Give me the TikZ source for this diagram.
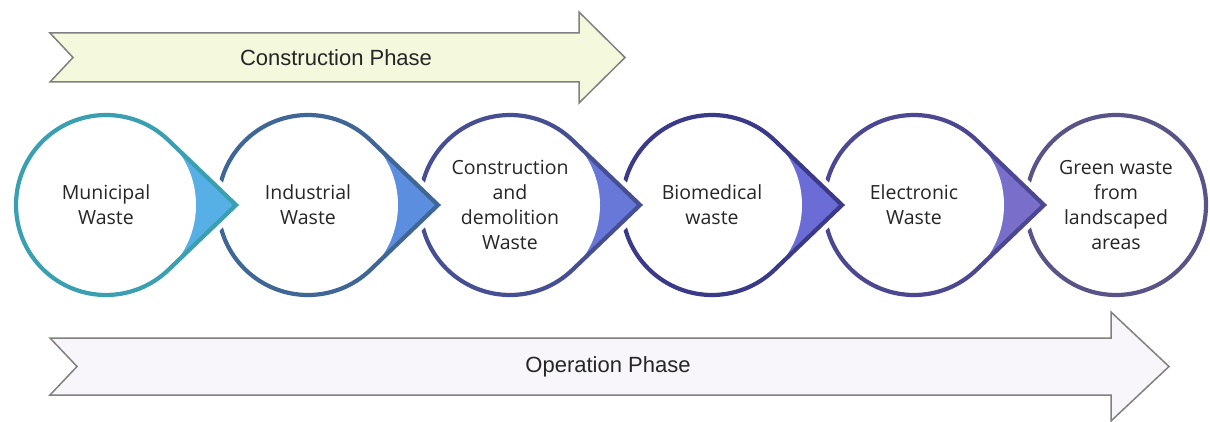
\documentclass[tikz,border=0pt]{standalone}
\usepackage{fontspec}
\setmainfont{Open Sans}
\newfontfamily\phasefont{Liberation Sans}
\usetikzlibrary{positioning}
\usetikzlibrary{calc}

\definecolor{constfill}{HTML}{F4F8DC}
\definecolor{operfill}{HTML}{F8F5FB}
\definecolor{bandline}{HTML}{808080}
\definecolor{ringA}{HTML}{3A9FB0}
\definecolor{ringB}{HTML}{3F6695}
\definecolor{ringC}{HTML}{474F93}
\definecolor{ringD}{HTML}{3A3A88}
\definecolor{ringE}{HTML}{4B4790}
\definecolor{ringF}{HTML}{585586}
\definecolor{tipA}{HTML}{56B0E6}
\definecolor{tipB}{HTML}{5B8EDF}
\definecolor{tipC}{HTML}{6878D8}
\definecolor{tipD}{HTML}{6C6CD6}
\definecolor{tipE}{HTML}{7A6ECB}

\begin{document}
\begin{tikzpicture}[x=1pt,y=1pt]
	\tikzstyle{stagetext} = [align=center,font=\fontsize{19.5}{25}\selectfont,text=black!85]
	\tikzstyle{phasetext} = [font=\phasefont\fontsize{22}{25}\selectfont,text=black!85]
	\tikzstyle{band} = [draw=bandline,line width=1.5pt,line join=miter]
	\tikzstyle{halo} = [draw=white,fill=white,line width=14pt,line join=miter]
	\tikzstyle{ring} = [line width=4.2pt,line join=miter]

	\useasboundingbox (0,0) rectangle (1210,421);

	% phase arrows
	\draw[band,fill=constfill] (50,339) -- (579,339) -- (579,318) -- (625,363.5)
		-- (579,409) -- (579,388) -- (50,388) -- (73,363.5) -- cycle;
	\draw[band,fill=operfill] (50,26) -- (1111,26) -- (1111,0) -- (1169,54.5)
		-- (1111,109) -- (1111,83) -- (50,83) -- (77,54.5) -- cycle;

	\node[phasetext] at (336,363.5) (construction) {Construction Phase};
	\node[phasetext] at (608,54.5) (operation) {Operation Phase};

	% last stage has no tip
	\draw[halo] (1116,216) circle (90);
	\draw[ring,draw=ringF,fill=white] (1116,216) circle (90);

	% stages with tips, right to left so each tip lies over the next ring
	\foreach \cx/\rc/\tc in {914/ringE/tipE,712/ringD/tipD,510/ringC/tipC,308/ringB/tipB,106/ringA/tipA}{
		\coordinate (c) at (\cx,216);
		\coordinate (tip) at (\cx+130,216);
		\draw[halo] (c) ++(46.19:90) arc[start angle=46.19,end angle=313.81,radius=90] -- (tip) -- cycle;
		\fill[\tc] (c) ++(46.19:90) arc[start angle=46.19,end angle=313.81,radius=90] -- (tip) -- cycle;
		\fill[white] (c) circle (90);
		\draw[ring,draw=\rc] (c) ++(46.19:90) arc[start angle=46.19,end angle=313.81,radius=90] -- (tip) -- cycle;
	}

	\node[stagetext] at (106,216) (municipal) {Municipal\\Waste};
	\node[stagetext] at (308,216) (industrial) {Industrial\\Waste};
	\node[stagetext] at (510,216) (demolition) {Construction\\and\\demolition\\Waste};
	\node[stagetext] at (712,216) (biomedical) {Biomedical\\waste};
	\node[stagetext] at (914,216) (electronic) {Electronic\\Waste};
	\node[stagetext] at (1116,216) (green) {Green waste\\from\\landscaped\\areas};
\end{tikzpicture}
\end{document}
